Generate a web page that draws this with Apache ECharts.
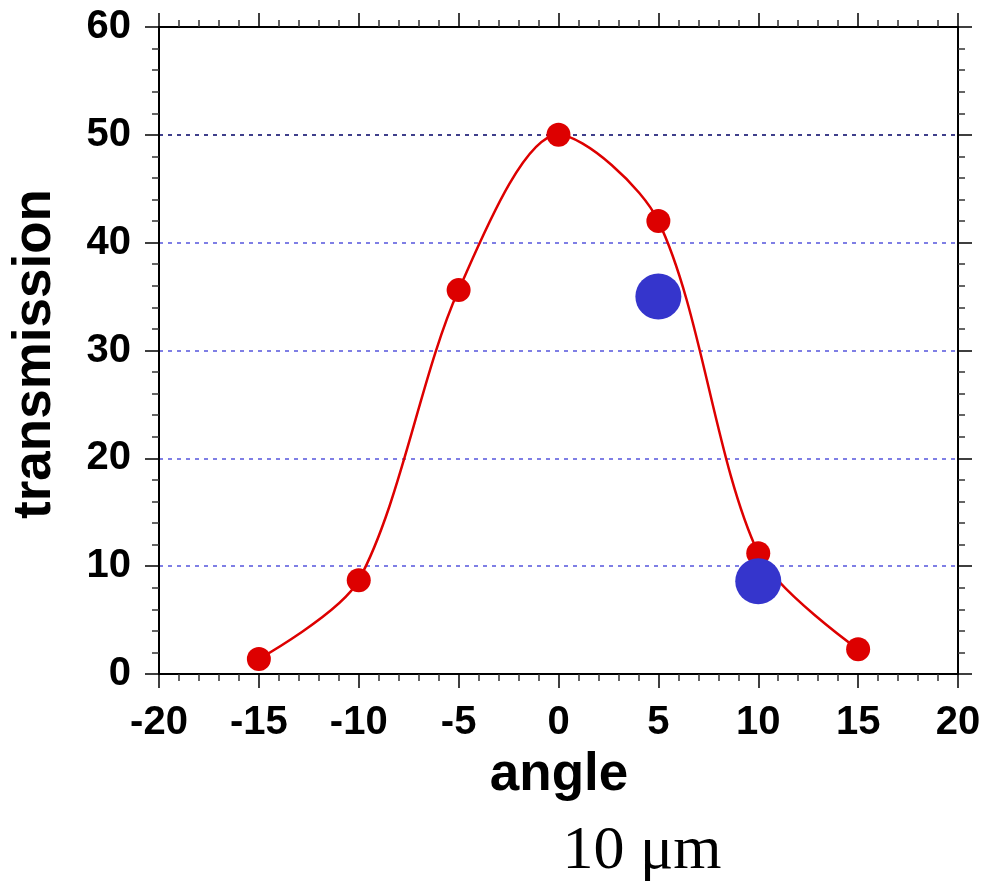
<!DOCTYPE html>
<html>
<head>
<meta charset="utf-8">
<script src="https://cdn.jsdelivr.net/npm/echarts@6/dist/echarts.min.js"></script>
<style>
  html, body { margin: 0; padding: 0; background: #fff; }
  #chart { width: 986px; height: 887px; }
</style>
</head>
<body>
<div id="chart"></div>
<script>
// data
const angles = [-15, -10, -5, 0, 5, 10, 15]
const transmission = [1.4, 8.7, 35.6, 50, 42, 11.2, 2.3]
const blueAngles = [5, 10]
const blueValues = [35, 8.6]

const font = 'Liberation Sans, Arial, sans-serif'
const chart = echarts.init(document.getElementById('chart'))

// ticks point outward on all four sides
const tickStyle = { lineStyle: { color: '#000', width: 1.5 } }
const minorStyle = { lineStyle: { color: '#333', width: 1.5 } }

const xBase = {
  type: 'value', min: -20, max: 20, interval: 5,
  axisLine: { show: true, onZero: false, lineStyle: { color: '#000', width: 2 } },
  axisTick: { show: true, inside: false, length: 14, ...tickStyle },
  minorTick: { show: true, splitNumber: 5, length: 7, ...minorStyle },
  splitLine: { show: false }
}
const yBase = {
  type: 'value', min: 0, max: 60, interval: 10,
  axisLine: { show: true, onZero: false, lineStyle: { color: '#000', width: 2 } },
  axisTick: { show: true, inside: false, length: 14, ...tickStyle },
  minorTick: { show: true, splitNumber: 5, length: 7, ...minorStyle }
}

const option = {
  backgroundColor: '#fff',
  animation: false,
  grid: { left: 159, right: 28, top: 27, bottom: 213 },
  xAxis: [
    {
      ...xBase, position: 'bottom',
      axisLabel: { fontFamily: font, fontWeight: 'bold', fontSize: 40, color: '#000', margin: 29 }
    },
    { ...xBase, position: 'top', axisLabel: { show: false } }
  ],
  yAxis: [
    {
      ...yBase, position: 'left',
      axisLabel: { fontFamily: font, fontWeight: 'bold', fontSize: 40, color: '#000', margin: 28 },
      splitLine: {
        show: true,
        lineStyle: {
          color: ['#5555dd', '#5555dd', '#5555dd', '#5555dd', '#5555dd', '#000066', '#000'],
          type: [4, 5], width: 1.5
        }
      }
    },
    { ...yBase, position: 'right', axisLabel: { show: false }, splitLine: { show: false } }
  ],
  graphic: [
    {
      type: 'text', x: 559, y: 775,
      style: { text: 'angle', font: 'bold 53px ' + font, fill: '#000', align: 'center', verticalAlign: 'middle' }
    },
    {
      type: 'text', x: 35, y: 354, rotation: Math.PI / 2,
      style: { text: 'transmission', font: 'bold 53px ' + font, fill: '#000', align: 'center', verticalAlign: 'middle' }
    },
    {
      type: 'text', x: 642, y: 852,
      style: { text: '10 \u03bcm', font: '62px Liberation Serif, Times New Roman, serif', fill: '#000', align: 'center', verticalAlign: 'middle' }
    }
  ],
  series: [
    {
      type: 'line',
      data: angles.map((a, i) => [a, transmission[i]]),
      smooth: 0.3,
      symbol: 'circle', symbolSize: 24, showAllSymbol: true,
      itemStyle: { color: '#dd0000' },
      lineStyle: { color: '#dd0000', width: 2.5 },
      z: 3
    },
    {
      type: 'scatter',
      data: blueAngles.map((a, i) => [a, blueValues[i]]),
      symbol: 'circle', symbolSize: 46,
      itemStyle: { color: '#3535cc', opacity: 1 },
      z: 4
    }
  ]
}

chart.setOption(option)
</script>
</body>
</html>
